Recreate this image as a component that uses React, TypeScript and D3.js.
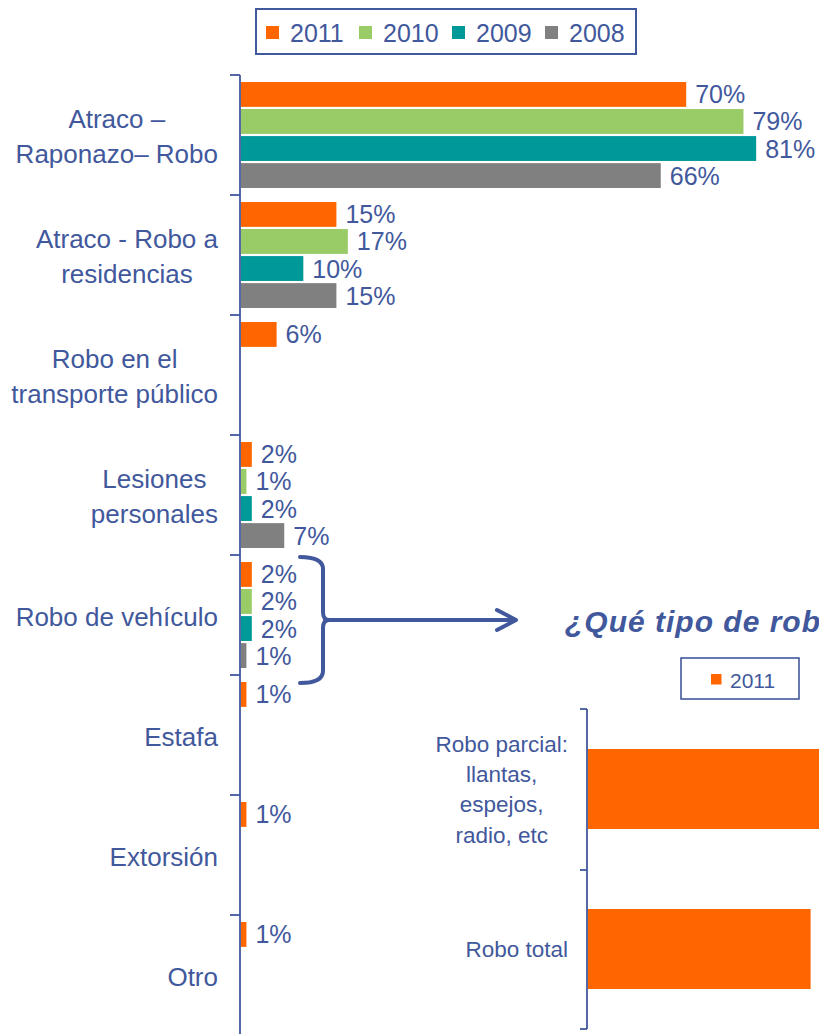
import React, { useEffect, useRef } from 'react';
import * as d3 from 'd3';

// categories (main chart) and their wrapped label lines
const categories = [
  'Atraco – Raponazo– Robo',
  'Atraco - Robo a residencias',
  'Robo en el transporte público',
  'Lesiones personales',
  'Robo de vehículo',
  'Estafa',
  'Extorsión',
  'Otro',
];
const labelLines = [
  ['Atraco –', 'Raponazo– Robo'],
  ['Atraco - Robo a', 'residencias'],
  ['Robo en el', 'transporte público'],
  ['Lesiones', 'personales'],
  ['Robo de vehículo'],
  ['Estafa'],
  ['Extorsión'],
  ['Otro'],
];

const years = ['2011', '2010', '2009', '2008'];
const yearColors = ['#FF6600', '#99CC66', '#009999', '#808080'];

// values in % (null = no bar)
const values2011 = [70, 15, 5.6, 1.7, 1.7, 0.85, 0.85, 0.85];
const values2010 = [79, 16.8, null, 0.85, 1.7, null, null, null];
const values2009 = [81, 9.8, null, 1.7, 1.7, null, null, null];
const values2008 = [66, 15, null, 6.8, 0.85, null, null, null];
const seriesValues = [values2011, values2010, values2009, values2008];

// vehicle theft detail chart
const theftTypes = ['Robo parcial', 'Robo total'];
const theftLines = [['Robo parcial:', 'llantas,', 'espejos,', 'radio, etc'], ['Robo total']];
const theft2011 = [65, 35];

const titleText = '¿Qué tipo de robo?';

const BLUE = '#41589C';
const FONT = '"Liberation Sans", Arial, sans-serif';

const App = () => {
  const ref = useRef<SVGSVGElement>(null);

  useEffect(() => {
    const svg = d3.select(ref.current);
    svg.selectAll('*').remove();

    // ---------- main chart ----------
    const y = d3.scaleBand().domain(categories).range([75, 1035]);
    const ySub = d3.scaleBand().domain(years).range([7, 113]).paddingInner(0.08);
    const x = d3.scaleLinear().domain([0, 100]).range([241, 877]);

    const groups = svg.selectAll('g.cat')
      .data(categories)
      .enter().append('g')
      .attr('class', 'cat')
      .attr('transform', d => `translate(0,${y(d)})`);

    groups.each(function (cat, ci) {
      const g = d3.select(this);
      years.forEach((yr, si) => {
        const v = seriesValues[si][ci];
        if (v == null) return;
        g.append('rect')
          .attr('x', x(0))
          .attr('y', ySub(yr))
          .attr('width', x(v) - x(0))
          .attr('height', ySub.bandwidth())
          .attr('fill', yearColors[si]);
        g.append('text')
          .attr('x', x(v) + 9)
          .attr('y', ySub(yr)! + ySub.bandwidth() / 2)
          .attr('dy', '0.36em')
          .attr('font-family', FONT)
          .attr('font-size', 25)
          .attr('fill', BLUE)
          .text(`${Math.round(v)}%`);
      });

      // category label: block right-aligned, lines centred within it
      const lines = labelLines[ci];
      const lh = 35;
      const cy = y.bandwidth() / 2 + 1.5;
      const t = g.append('g');
      const texts = lines.map((ln, li) => t.append('text')
        .attr('y', cy - ((lines.length - 1) * lh) / 2 + li * lh)
        .attr('dy', '0.36em')
        .attr('font-family', FONT)
        .attr('font-size', 26)
        .attr('fill', BLUE)
        .attr('text-anchor', 'middle')
        .text(ln));
      const maxW = d3.max(texts, s => (s.node() as SVGTextElement).getComputedTextLength()) || 0;
      texts.forEach(s => s.attr('x', 218 - maxW / 2));
    });

    // axis
    svg.append('line')
      .attr('x1', 240).attr('x2', 240)
      .attr('y1', 75).attr('y2', 1035)
      .attr('stroke', BLUE).attr('stroke-width', 1.8);
    svg.selectAll('line.tick')
      .data(categories)
      .enter().append('line')
      .attr('class', 'tick')
      .attr('x1', 230).attr('x2', 240)
      .attr('y1', d => y(d)!).attr('y2', d => y(d)!)
      .attr('stroke', BLUE).attr('stroke-width', 1.8);

    // legend
    const lg = svg.append('g');
    lg.append('rect')
      .attr('x', 256).attr('y', 9).attr('width', 380).attr('height', 45)
      .attr('fill', 'white').attr('stroke', BLUE).attr('stroke-width', 2);
    years.forEach((yr, i) => {
      const lx = 266 + i * 93;
      lg.append('rect').attr('x', lx).attr('y', 26).attr('width', 13).attr('height', 13).attr('fill', yearColors[i]);
      lg.append('text')
        .attr('x', lx + 24).attr('y', 41.5)
        .attr('font-family', FONT).attr('font-size', 25).attr('fill', BLUE)
        .text(yr);
    });

    // bracket + arrow around "Robo de vehículo"
    const top = y('Robo de vehículo')! + 2;
    const bot = y('Robo de vehículo')! + y.bandwidth() + 8;
    const mid = (top + bot) / 2;
    svg.append('path')
      .attr('d', `M300,${top} Q323,${top} 323,${top + 12} L323,${mid - 8} Q323,${mid} 329,${mid} Q323,${mid} 323,${mid + 8} L323,${bot - 12} Q323,${bot} 300,${bot}`)
      .attr('fill', 'none').attr('stroke', BLUE).attr('stroke-width', 4).attr('stroke-linecap', 'round');
    svg.append('path')
      .attr('d', `M329,${mid} L516,${mid} M497,${mid - 10} L516,${mid} L497,${mid + 10}`)
      .attr('fill', 'none').attr('stroke', BLUE).attr('stroke-width', 4)
      .attr('stroke-linecap', 'round').attr('stroke-linejoin', 'round');

    // ---------- detail chart ----------
    svg.append('text')
      .attr('x', 565).attr('y', 632)
      .attr('font-family', FONT).attr('font-size', 30)
      .attr('font-weight', 'bold').attr('font-style', 'italic')
      .attr('letter-spacing', 1)
      .attr('fill', BLUE)
      .text(titleText);

    const lg2 = svg.append('g');
    lg2.append('rect')
      .attr('x', 681).attr('y', 658).attr('width', 118).attr('height', 41)
      .attr('fill', 'white').attr('stroke', BLUE).attr('stroke-width', 1.6);
    lg2.append('rect').attr('x', 711).attr('y', 674).attr('width', 10.5).attr('height', 10.5).attr('fill', yearColors[0]);
    lg2.append('text')
      .attr('x', 730).attr('y', 688)
      .attr('font-family', FONT).attr('font-size', 21).attr('fill', BLUE)
      .text('2011');

    const y2 = d3.scaleBand().domain(theftTypes).range([709, 1029]).paddingInner(0.5).paddingOuter(0.25);
    const x2 = d3.scaleLinear().domain([0, 100]).range([588, 1224]);

    svg.selectAll('rect.theft')
      .data(theftTypes)
      .enter().append('rect')
      .attr('class', 'theft')
      .attr('x', x2(0))
      .attr('y', d => y2(d)!)
      .attr('width', (d, i) => x2(theft2011[i]) - x2(0))
      .attr('height', y2.bandwidth())
      .attr('fill', yearColors[0]);

    svg.append('line')
      .attr('x1', 587).attr('x2', 587).attr('y1', 709).attr('y2', 1029)
      .attr('stroke', BLUE).attr('stroke-width', 1.8);
    const ticks2 = [709, 709 + y2.step() * 1.0 + 1, 1029];
    svg.selectAll('line.tick2')
      .data(ticks2)
      .enter().append('line')
      .attr('class', 'tick2')
      .attr('x1', 580).attr('x2', 587)
      .attr('y1', d => d).attr('y2', d => d)
      .attr('stroke', BLUE).attr('stroke-width', 1.8);

    theftTypes.forEach((tt, ti) => {
      const lines = theftLines[ti];
      const lh = 30.4;
      const cy = y2(tt)! + y2.bandwidth() / 2;
      const texts = lines.map((ln, li) => svg.append('text')
        .attr('y', cy - ((lines.length - 1) * lh) / 2 + li * lh)
        .attr('dy', '0.36em')
        .attr('font-family', FONT)
        .attr('font-size', 22.5)
        .attr('fill', BLUE)
        .attr('text-anchor', 'middle')
        .text(ln));
      const maxW = d3.max(texts, s => (s.node() as SVGTextElement).getComputedTextLength()) || 0;
      texts.forEach(s => s.attr('x', 568 - maxW / 2));
    });
  }, []);

  return (
    <svg
      ref={ref}
      width={819}
      height={1034}
      style={{ position: 'absolute', left: 0, top: 0, background: 'white' }}
    />
  );
};

export default App;
